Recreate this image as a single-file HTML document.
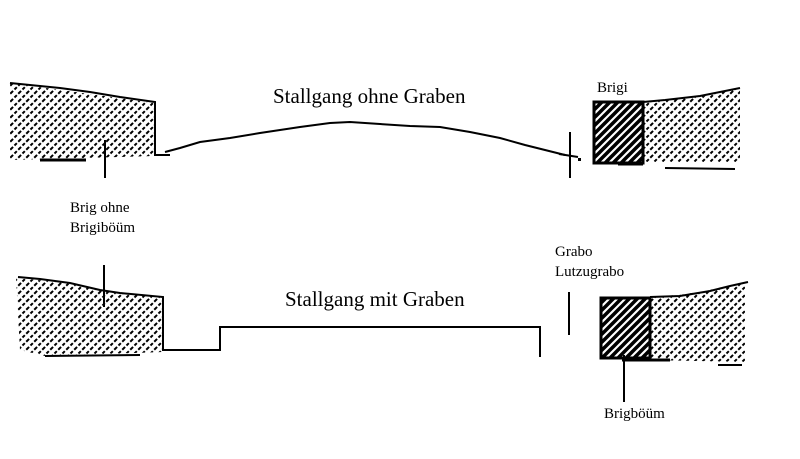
<!DOCTYPE html>
<html><head><meta charset="utf-8"><style>
html,body{margin:0;padding:0;background:#fff;width:800px;height:459px;overflow:hidden}
text{font-family:"Liberation Serif",serif;fill:#000}
</style></head><body>
<svg width="800" height="459" viewBox="0 0 800 459" xmlns="http://www.w3.org/2000/svg">
<defs>
<pattern id="h" width="8" height="8" patternUnits="userSpaceOnUse">
<line x1="-2" y1="10" x2="10" y2="-2" stroke="#000" stroke-width="2" stroke-dasharray="4,2"/>
<line x1="-2" y1="2" x2="2" y2="-2" stroke="#000" stroke-width="2"/>
<line x1="6" y1="10" x2="10" y2="6" stroke="#000" stroke-width="2"/>
</pattern>
<pattern id="d" width="8" height="8" patternUnits="userSpaceOnUse">
<line x1="-2" y1="10" x2="10" y2="-2" stroke="#000" stroke-width="3.5"/>
<line x1="-2" y1="2" x2="2" y2="-2" stroke="#000" stroke-width="3.5"/>
<line x1="6" y1="10" x2="10" y2="6" stroke="#000" stroke-width="3.5"/>
</pattern>
</defs>
<!-- top left block -->
<polygon points="10,83 155,103 155,156 10,160" fill="url(#h)"/>
<polyline points="10,83 30,85 60,88 90,92 120,97 155,102 155,155 170,155" fill="none" stroke="#000" stroke-width="2"/>
<line x1="40" y1="160" x2="86" y2="160" stroke="#000" stroke-width="3"/>
<line x1="105" y1="140" x2="105" y2="178" stroke="#000" stroke-width="2"/>
<!-- curve -->
<polyline points="165,152 180,148 200,142 230,138 260,133 300,127 330,123 350,122 380,124 410,126 440,127 470,132 500,138 525,145 545,150 565,155" fill="none" stroke="#000" stroke-width="2"/>
<line x1="570" y1="132" x2="570" y2="178" stroke="#000" stroke-width="2"/>
<line x1="559" y1="154" x2="578" y2="157" stroke="#000" stroke-width="2"/>
<rect x="578" y="158" width="3" height="3" fill="#000"/>
<!-- top right -->
<polygon points="643,102 700,97 740,88 740,162 643,162" fill="url(#h)"/>
<rect x="594" y="102" width="49" height="61" fill="url(#d)" stroke="#000" stroke-width="3"/>
<polyline points="643,102 665,100 700,96 720,92 740,88" fill="none" stroke="#000" stroke-width="2"/>
<line x1="618" y1="164" x2="643" y2="164" stroke="#000" stroke-width="3"/>
<line x1="665" y1="168" x2="735" y2="169" stroke="#000" stroke-width="2"/>
<!-- bottom left -->
<polygon points="16,278 60,282 100,290 163,297 163,352 45,356 20,350" fill="url(#h)"/>
<polyline points="18,277 40,279 70,283 100,290 120,293 163,297 163,350 220,350 220,327 540,327 540,357" fill="none" stroke="#000" stroke-width="2"/>
<line x1="45" y1="356" x2="140" y2="355" stroke="#000" stroke-width="2"/>
<line x1="104" y1="265" x2="104" y2="307" stroke="#000" stroke-width="2"/>
<line x1="569" y1="292" x2="569" y2="335" stroke="#000" stroke-width="2"/>
<!-- bottom right -->
<polygon points="650,298 700,292 745,282 745,362 650,360" fill="url(#h)"/>
<rect x="601" y="298" width="49" height="60" fill="url(#d)" stroke="#000" stroke-width="3"/>
<polyline points="650,297 680,296 710,291 730,286 748,282" fill="none" stroke="#000" stroke-width="2"/>
<line x1="622" y1="360" x2="670" y2="360" stroke="#000" stroke-width="3"/>
<line x1="718" y1="365" x2="742" y2="365" stroke="#000" stroke-width="2"/>
<line x1="624" y1="355" x2="624" y2="402" stroke="#000" stroke-width="2"/>
<!-- text -->
<text x="273" y="103" font-size="21">Stallgang ohne Graben</text>
<text x="285" y="306" font-size="21">Stallgang mit Graben</text>
<text x="597" y="92" font-size="15">Brigi</text>
<text x="70" y="212" font-size="15">Brig ohne</text>
<text x="70" y="232" font-size="15">Brigiböüm</text>
<text x="555" y="256" font-size="15">Grabo</text>
<text x="555" y="276" font-size="15">Lutzugrabo</text>
<text x="604" y="418" font-size="15">Brigböüm</text>
</svg>
</body></html>
